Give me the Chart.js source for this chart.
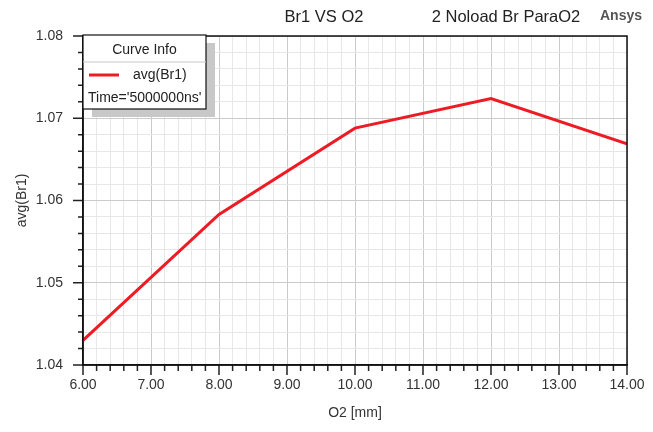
<!DOCTYPE html>
<html>
<head>
<meta charset="utf-8">
<script src="https://cdn.jsdelivr.net/npm/chart.js@4.4.1/dist/chart.umd.min.js"></script>
<style>
  html, body { margin: 0; padding: 0; background: #fff; }
  canvas { display: block; }
</style>
</head>
<body>
<canvas id="brChart" width="653" height="432"></canvas>
<script>
// O2 sweep vs avg(Br1)
const o2Values  = [6, 8, 10, 12, 14];
const br1Values = [1.0430, 1.0583, 1.0688, 1.0724, 1.0669];

const xMin = 6, xMax = 14, xStep = 0.2;
const yMin = 1.04, yMax = 1.08, yStep = 0.002;

const seriesLabel = 'avg(Br1)';
const timeLabel   = "Time='5000000ns'";
const chartTitle  = 'Br1 VS O2';
const designTitle = '2 Noload Br ParaO2';

const FONT = '"Liberation Sans", Arial, sans-serif';
const RED  = 'rgb(237, 28, 36)';

function isMajorX(v) { return Math.abs(v - Math.round(v)) < 1e-6; }
function isMajorY(v) { return Math.abs(v * 100 - Math.round(v * 100)) < 1e-6; }

// tick marks outside the axes (long for major, short for minor)
const tickMarks = {
    id: 'tickMarks',
    afterDraw(chart) {
        const c = chart.ctx;
        const area = chart.chartArea;
        c.save();
        c.strokeStyle = '#222';
        c.lineWidth = 1.5;
        c.beginPath();
        chart.scales.x.ticks.forEach(t => {
            const px = chart.scales.x.getPixelForValue(t.value);
            const len = isMajorX(t.value) ? 10 : 6;
            c.moveTo(px, area.bottom);
            c.lineTo(px, area.bottom + len);
        });
        chart.scales.y.ticks.forEach(t => {
            const py = chart.scales.y.getPixelForValue(t.value);
            const len = isMajorY(t.value) ? 10 : 5;
            c.moveTo(area.left, py);
            c.lineTo(area.left - len, py);
        });
        c.stroke();
        // frame
        c.lineWidth = 1.5;
        c.strokeStyle = '#111';
        c.strokeRect(area.left, area.top, area.right - area.left, area.bottom - area.top);
        c.restore();
    }
};

// header texts
const headerText = {
    id: 'headerText',
    afterDraw(chart) {
        const c = chart.ctx;
        c.save();
        c.textBaseline = 'middle';
        c.fillStyle = '#222';
        c.font = '16.5px ' + FONT;
        c.textAlign = 'center';
        c.fillText(chartTitle, 324, 17);
        c.fillText(designTitle, 506, 17);
        c.font = 'bold 14px ' + FONT;
        c.fillStyle = '#555';
        c.textAlign = 'left';
        c.fillText('Ansys', 600, 16);
        c.restore();
    }
};

// Ansys-style "Curve Info" box
const curveInfo = {
    id: 'curveInfo',
    afterDraw(chart) {
        const c = chart.ctx;
        const ds = chart.data.datasets[0];
        const x = 83, y = 35, w = 123, h = 74;
        c.save();
        c.fillStyle = '#c8c8c8';
        c.fillRect(x + 9, y + 8, w, h);
        c.fillStyle = '#fff';
        c.fillRect(x, y, w, h);
        c.strokeStyle = '#111';
        c.lineWidth = 1.2;
        c.strokeRect(x, y, w, h);
        c.strokeStyle = '#c8c8c8';
        c.lineWidth = 1;
        c.beginPath();
        c.moveTo(x, y + 27);
        c.lineTo(x + w, y + 27);
        c.stroke();

        c.fillStyle = '#222';
        c.font = '14px ' + FONT;
        c.textBaseline = 'middle';
        c.textAlign = 'center';
        c.fillText('Curve Info', x + w / 2, y + 15);

        c.strokeStyle = ds.borderColor;
        c.lineWidth = 3;
        c.beginPath();
        c.moveTo(x + 6, y + 40);
        c.lineTo(x + 36, y + 40);
        c.stroke();

        c.textAlign = 'left';
        c.fillText(ds.label, x + 50, y + 40);
        c.fillText(timeLabel, x + 5, y + 63);
        c.restore();
    }
};

const ctx = document.getElementById('brChart').getContext('2d');
const chart = new Chart(ctx, {
    type: 'line',
    data: {
        datasets: [{
            label: seriesLabel,
            data: o2Values.map((v, i) => ({ x: v, y: br1Values[i] })),
            borderColor: RED,
            borderWidth: 3,
            pointRadius: 0,
            tension: 0,
            fill: false
        }]
    },
    options: {
        responsive: false,
        animation: false,
        devicePixelRatio: 1,
        layout: { padding: { top: 36, right: 26, left: 0, bottom: 0 } },
        plugins: {
            legend: { display: false },
            tooltip: { enabled: false },
            title: { display: false }
        },
        scales: {
            x: {
                type: 'linear',
                min: xMin,
                max: xMax,
                afterFit(scale) {
                    scale.height = 67;
                    scale.paddingLeft = 0;
                    scale.paddingRight = 0;
                },
                ticks: {
                    stepSize: xStep,
                    autoSkip: false,
                    maxRotation: 0,
                    padding: 12,
                    color: '#333',
                    font: { family: FONT, size: 14 },
                    callback: v => isMajorX(v) ? Number(v).toFixed(2) : ''
                },
                grid: {
                    drawTicks: false,
                    color: c => isMajorX(c.tick.value) ? '#cbcbcb' : '#e7e7e7',
                    lineWidth: 1
                },
                border: { display: true, color: '#111', width: 1.5 },
                title: {
                    display: true,
                    text: 'O2 [mm]',
                    color: '#333',
                    font: { family: FONT, size: 14 },
                    padding: { top: 0, bottom: 10 }
                }
            },
            y: {
                type: 'linear',
                min: yMin,
                max: yMax,
                afterFit(scale) { scale.width = 83; },
                ticks: {
                    stepSize: yStep,
                    autoSkip: false,
                    padding: 20,
                    color: '#333',
                    font: { family: FONT, size: 14 },
                    callback: v => isMajorY(v) ? Number(v).toFixed(2) : ''
                },
                grid: {
                    drawTicks: false,
                    color: c => isMajorY(c.tick.value) ? '#cbcbcb' : '#e7e7e7',
                    lineWidth: 1
                },
                border: { display: true, color: '#111', width: 1.5 },
                title: {
                    display: true,
                    text: 'avg(Br1)',
                    color: '#333',
                    font: { family: FONT, size: 14 },
                    padding: { top: 14, bottom: 0 }
                }
            }
        }
    },
    plugins: [tickMarks, headerText, curveInfo]
});
</script>
</body>
</html>
